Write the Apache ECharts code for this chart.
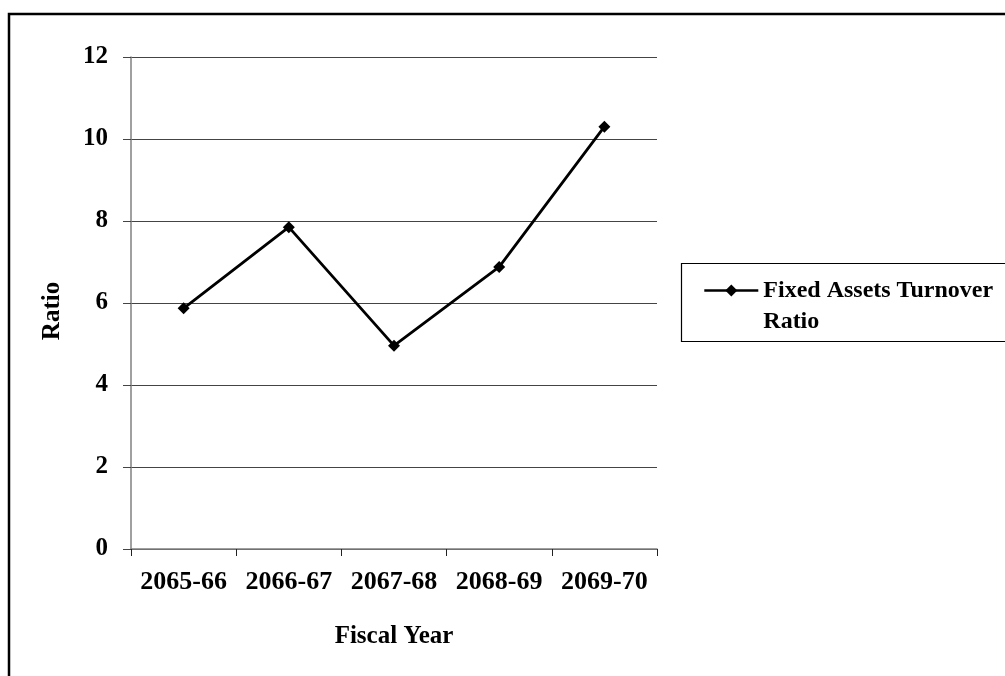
<!DOCTYPE html>
<html>
<head>
<meta charset="utf-8">
<script src="https://cdn.jsdelivr.net/npm/echarts@6/dist/echarts.min.js"></script>
<style>
  html, body { margin: 0; padding: 0; background: #fff; }
  #chart { width: 1005px; height: 676px; }
</style>
</head>
<body>
<div id="chart"></div>
<script>
// Fiscal years on the category axis
const fiscalYears = ['2065-66', '2066-67', '2067-68', '2068-69', '2069-70'];
// Fixed assets turnover ratio per year
const turnoverRatio = [5.87, 7.85, 4.96, 6.88, 10.30];
// Value axis range and step
const yMin = 0;
const yMax = 12;
const yStep = 2;

const seriesName = 'Fixed Assets Turnover Ratio';
const serif = "'Liberation Serif', 'Times New Roman', serif";

const chart = echarts.init(document.getElementById('chart'), null, { renderer: 'canvas' });

chart.setOption({
  backgroundColor: '#fff',
  animation: false,
  textStyle: { fontFamily: serif, fontWeight: 'bold', color: '#000' },
  grid: { left: 131, right: 348, top: 57, bottom: 127, containLabel: false },
  graphic: [
    {
      type: 'rect',
      shape: { x: 9, y: 14, width: 1200, height: 900 },
      style: { fill: 'none', stroke: '#000', lineWidth: 2.5 },
      silent: true
    },
    {
      type: 'rect',
      shape: { x: 681.5, y: 263.5, width: 400, height: 78 },
      style: { fill: 'none', stroke: '#000', lineWidth: 1.2 },
      silent: true
    }
  ],
  legend: {
    left: 703,
    top: 244,
    orient: 'vertical',
    itemWidth: 54,
    itemHeight: 15,
    padding: 0,
    data: [seriesName],
    lineStyle: { width: 2.6, color: '#000' },
    // leading blank line keeps the marker level with the first text line
    formatter: () => ' \nFixed Assets Turnover\nRatio',
    textStyle: {
      fontFamily: serif,
      fontWeight: 'bold',
      fontSize: 24,
      lineHeight: 31,
      color: '#000'
    }
  },
  xAxis: {
    type: 'category',
    data: fiscalYears,
    boundaryGap: true,
    name: 'Fiscal Year',
    nameLocation: 'middle',
    nameGap: 75,
    nameTextStyle: { fontFamily: serif, fontWeight: 'bold', fontSize: 25, color: '#000' },
    axisLine: { lineStyle: { color: '#808080', width: 1.5 } },
    axisTick: { show: true, length: 7, inside: false, lineStyle: { color: '#222', width: 1 } },
    axisLabel: { fontFamily: serif, fontWeight: 'bold', fontSize: 26, color: '#000', margin: 20, interval: 0 },
    splitLine: { show: false }
  },
  yAxis: {
    type: 'value',
    min: yMin,
    max: yMax,
    interval: yStep,
    name: 'Ratio',
    nameLocation: 'middle',
    nameGap: 66,
    nameRotate: 90,
    nameTextStyle: { fontFamily: serif, fontWeight: 'bold', fontSize: 25, color: '#000', padding: [0, 16, 0, 0] },
    axisLine: { show: true, lineStyle: { color: '#808080', width: 1.5 } },
    axisTick: { show: true, length: 8, inside: false, lineStyle: { color: '#444', width: 1 } },
    axisLabel: { fontFamily: serif, fontWeight: 'bold', fontSize: 25, color: '#000', margin: 23 },
    splitLine: { show: true, lineStyle: { color: '#444', width: 1 } }
  },
  series: [
    {
      name: seriesName,
      type: 'line',
      data: turnoverRatio,
      symbol: 'diamond',
      symbolSize: 12,
      lineStyle: { color: '#000', width: 2.8 },
      itemStyle: { color: '#000' }
    }
  ]
});
</script>
</body>
</html>
